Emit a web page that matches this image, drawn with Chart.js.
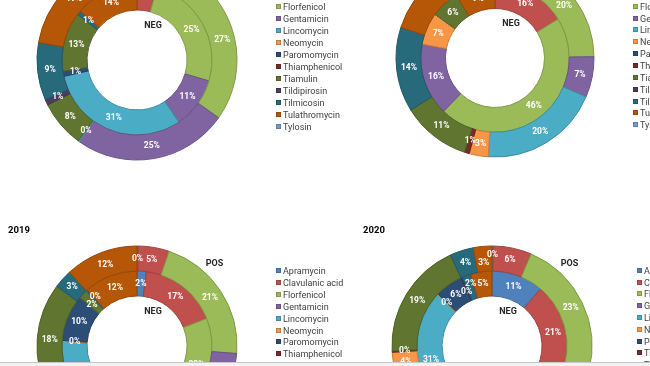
<!DOCTYPE html>
<html><head><meta charset="utf-8">
<script src="https://cdn.jsdelivr.net/npm/chart.js@4.4.1/dist/chart.umd.min.js"></script>
<style>
html,body{margin:0;padding:0;background:#fff;}
body{width:650px;height:366px;overflow:hidden;position:relative;font-family:Roboto,'Liberation Sans',sans-serif;}
canvas.pie{position:absolute;}
.t{position:absolute;white-space:nowrap;transform:translate(-50%,-50%);line-height:1;}
.yr{font-weight:bold;font-size:9.5px;color:#000;}
.ring{font-weight:bold;font-size:9px;color:#262626;}
.lg{position:absolute;height:12px;line-height:12px;font-size:9px;color:#404040;white-space:nowrap;}
.lg i{position:absolute;left:0;top:3px;width:5px;height:5px;box-sizing:border-box;border:1px solid;}
.lg span{position:absolute;left:7px;top:0;}
.cut{position:absolute;left:0;top:362px;width:650px;height:4px;background:#f2f2f2;border-top:1px solid #c8c8c8;}
</style></head><body>
<script>
// ---- data ----
const antibiotics = ['Apramycin','Clavulanic acid','Florfenicol','Gentamicin','Lincomycin','Neomycin','Paromomycin','Thiamphenicol','Tiamulin','Tildipirosin','Tilmicosin','Tulathromycin','Tylosin'];
const palette = ['#4F81BD','#C0504D','#9BBB59','#8064A2','#4BACC6','#F79646','#2C4D75','#772C2A','#5F7530','#4D3B62','#276A7C','#B65708','#729ACA'];

// percentages (null = no value in that ring)
const negA    = [null, 4.3, 25.2, 11.1, 30.9, null, 1.1, null, 12.8, null, 0.9, 13.7, null];
const posA    = [null, 7.8, 27.0, 25.0, 0.2, null, null, null, 7.6, 0.9, 9.3, 18.8, 3.4];
const negB    = [null, 16.2, 46.0, 15.8, null, 7.0, null, null, 6.2, null, null, 8.8, null];
const posB    = [null, 4.6, 20.2, 6.6, 19.7, 3.1, null, 0.8, 11.2, null, 13.8, 20.0, null];
const neg2019 = [2.0, 17.0, 22.0, 6.0, 29.0, 0.2, 10.0, null, 2.0, null, 0.3, 11.5, null];
const pos2019 = [0.2, 5.0, 21.0, 8.0, 25.0, 3.0, 5.0, null, 18.0, null, 3.0, 11.8, null];
const neg2020 = [11.2, 20.8, 18.0, 6.0, 31.0, 0.2, 6.0, null, null, 0.3, 1.9, 4.6, null];
const pos2020 = [0.2, 6.2, 22.8, 6.0, 35.0, 3.8, null, 0.2, 19.0, null, 3.8, 3.0, null];
const yearLabels = ['2019', '2020'];
const ringLabels = ['NEG', 'POS'];

// ---- layout (positions / sizes) ----
const panels = [
  {pos: posA,    neg: negA,    cx: 137, cy: 60,  r: 100, year: null},
  {pos: posB,    neg: negB,    cx: 495, cy: 58,  r: 99,  year: null},
  {pos: pos2019, neg: neg2019, cx: 137, cy: 346, r: 100, year: yearLabels[0], yx: 19, yy: 230},
  {pos: pos2020, neg: neg2020, cx: 492, cy: 346, r: 100, year: yearLabels[1], yx: 374, yy: 230}
];
const legends = [
  {x: 276, y0: -16.6, step: 11.97},
  {x: 633, y0: -17.0, step: 11.85},
  {x: 276, y0: 271.0, step: 11.9},
  {x: 637, y0: 270.8, step: 11.8}
];

function shade(hex, f) {
  const n = parseInt(hex.slice(1), 16);
  const r = Math.round(((n >> 16) & 255) * f), g = Math.round(((n >> 8) & 255) * f), b = Math.round((n & 255) * f);
  return 'rgb(' + r + ',' + g + ',' + b + ')';
}
const borders = palette.map(c => shade(c, 0.82));

const labelPlugin = {
  id: 'pctLabels',
  afterDatasetsDraw(chart) {
    const ctx = chart.ctx;
    ctx.save();
    ctx.font = 'bold 8.5px Roboto';
    ctx.fillStyle = '#ffffff';
    ctx.textAlign = 'center';
    ctx.textBaseline = 'middle';
    const all = [];
    chart.data.datasets.forEach((ds, di) => {
      const meta = chart.getDatasetMeta(di);
      const placed = [];
      meta.data.forEach((arc, i) => {
        const v = ds.data[i];
        if (v === null || v === undefined) return;
        const p = arc.getProps(['startAngle', 'endAngle', 'innerRadius', 'outerRadius', 'x', 'y'], true);
        const a = (p.startAngle + p.endAngle) / 2;
        const rr = (p.innerRadius + p.outerRadius) / 2;
        const lb = {text: Math.round(v) + '%', x: p.x + Math.cos(a) * rr, y: p.y + Math.sin(a) * rr};
        lb.w = ctx.measureText(lb.text).width;
        const h = 8;
        placed.forEach(o => {
          const dx = Math.abs(lb.x - o.x), dy = lb.y - o.y;
          if (dx < 9.5 && Math.abs(dy) < h) {
            const need = (h - Math.abs(dy)) / 2;
            const dir = dy > 0 ? 1 : -1;
            lb.y += dir * need;
            o.y -= dir * need;
          }
        });
        placed.push(lb);
        all.push(lb);
      });
    });
    all.forEach(l => ctx.fillText(l.text, l.x, l.y));
    ctx.restore();
  }
};

function addText(cls, txt, x, y) {
  const d = document.createElement('div');
  d.className = 't ' + cls;
  d.textContent = txt;
  d.style.left = x + 'px';
  d.style.top = y + 'px';
  document.body.appendChild(d);
}

panels.forEach(p => {
  const size = 240;
  const cv = document.createElement('canvas');
  cv.className = 'pie';
  cv.width = size; cv.height = size;
  cv.style.left = (p.cx - size / 2) + 'px';
  cv.style.top = (p.cy - size / 2) + 'px';
  document.body.appendChild(cv);
  new Chart(cv, {
    type: 'doughnut',
    data: {
      labels: antibiotics,
      datasets: [
        {label: ringLabels[1], data: p.pos, backgroundColor: palette, borderColor: borders, borderWidth: 1, hoverOffset: 0},
        {label: ringLabels[0], data: p.neg, backgroundColor: palette, borderColor: borders, borderWidth: 1, hoverOffset: 0}
      ]
    },
    options: {
      responsive: false, animation: false, events: [],
      radius: p.r, cutout: '50%', rotation: 0, circumference: 360,
      layout: {padding: 0},
      plugins: {legend: {display: false}, tooltip: {enabled: false}}
    },
    plugins: [labelPlugin]
  });
  addText('ring', ringLabels[0], p.cx + 16, p.cy - 35.5);
  addText('ring', ringLabels[1], p.cx + 77.5, p.cy - 83);
  if (p.year) addText('yr', p.year, p.yx, p.yy);
});

legends.forEach(L => {
  antibiotics.forEach((name, i) => {
    const d = document.createElement('div');
    d.className = 'lg';
    d.style.left = L.x + 'px';
    d.style.top = (L.y0 + i * L.step - 6) + 'px';
    const sq = document.createElement('i');
    sq.style.background = palette[i];
    sq.style.borderColor = borders[i];
    const s = document.createElement('span');
    s.textContent = name;
    d.appendChild(sq); d.appendChild(s);
    document.body.appendChild(d);
  });
});

const cut = document.createElement('div');
cut.className = 'cut';
document.body.appendChild(cut);
</script>
</body></html>
